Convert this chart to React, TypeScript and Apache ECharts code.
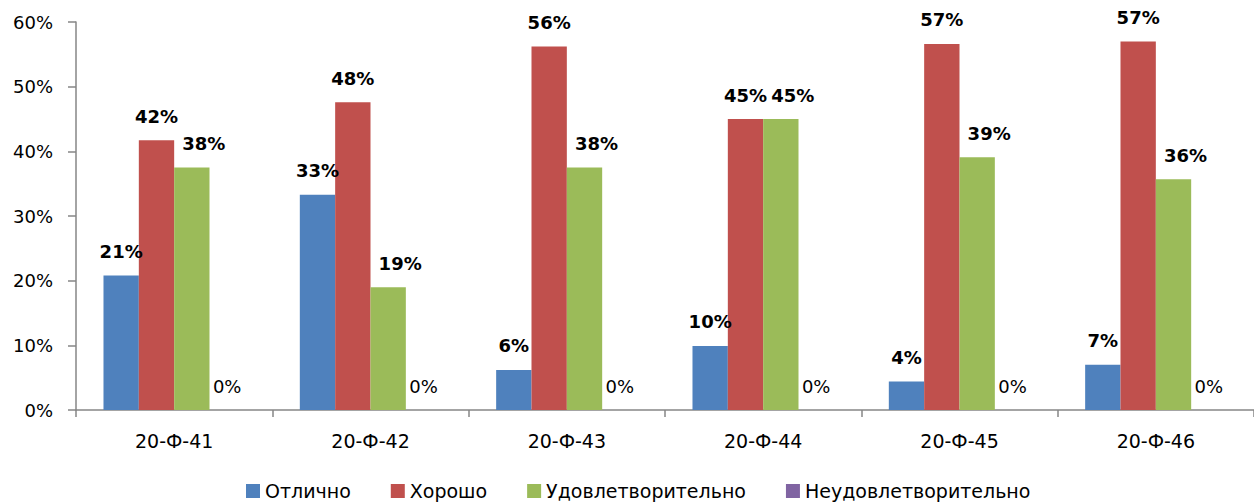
import React, { useEffect, useRef } from "react";
import * as echarts from "echarts";

const categories = ["20-Ф-41", "20-Ф-42", "20-Ф-43", "20-Ф-44", "20-Ф-45", "20-Ф-46"];
const seriesNames = ["Отлично", "Хорошо", "Удовлетворительно", "Неудовлетворительно"];
const excellent = [20.8, 33.3, 6.2, 9.9, 4.4, 7.0];
const good = [41.7, 47.6, 56.2, 45.0, 56.6, 57.0];
const satisfactory = [37.5, 19.0, 37.5, 45.0, 39.1, 35.7];
const unsatisfactory = [0, 0, 0, 0, 0, 0];
const colors = ["#4F81BD", "#C0504D", "#9BBB59", "#8064A2"];

const FONT = "DejaVu Sans";

export default function App() {
  const ref = useRef<HTMLDivElement>(null);
  useEffect(() => {
    if (!ref.current) return;
    const chart = echarts.init(ref.current, undefined, { renderer: "svg" });
    const allData = [excellent, good, satisfactory, unsatisfactory];
    const mkLabel = (offsetX: number) => ({
      show: true,
      position: "top",
      distance: 15,
      offset: [offsetX, 0],
      fontFamily: FONT,
      fontSize: 18,
      color: "#000",
      formatter: (p: any) => Math.round(p.value) + "%",
    });
    const series = allData.map((d, i) => ({
      name: seriesNames[i],
      type: "bar",
      barGap: "0%",
      barCategoryGap: "28%",
      itemStyle: { color: colors[i] },
      data: d.map((v) => ({
        value: v,
        label: { fontWeight: v === 0 ? "normal" : "bold" },
      })),
      label: mkLabel(i === 2 ? 12 : 0),
    }));
    chart.setOption({
      animation: false,
      textStyle: { fontFamily: FONT },
      grid: { left: 76, top: 22, width: 1190, height: 388 },
      legend: {
        data: seriesNames,
        top: 480,
        left: 246,
        padding: 0,
        icon: "rect",
        itemWidth: 14,
        itemHeight: 14,
        itemGap: 40,
        textStyle: { fontFamily: FONT, fontSize: 19, color: "#000", lineHeight: 22 },
      },
      xAxis: {
        type: "category",
        data: categories,
        axisLine: { lineStyle: { color: "#868686", width: 1.5 } },
        axisTick: { show: true, length: 7, lineStyle: { color: "#868686", width: 1.5 } },
        axisLabel: { fontFamily: FONT, fontSize: 19, color: "#000", margin: 21 },
      },
      yAxis: {
        type: "value",
        min: 0,
        max: 60,
        interval: 10,
        splitLine: { show: false },
        axisLine: { show: true, lineStyle: { color: "#868686", width: 1.5 } },
        axisTick: { show: true, length: 8, lineStyle: { color: "#868686", width: 1.5 } },
        axisLabel: { fontFamily: FONT, fontSize: 18, color: "#000", margin: 23, formatter: "{value}%" },
      },
      series,
    });
    return () => chart.dispose();
  }, []);
  return (
    <div
      ref={ref}
      style={{ position: "fixed", left: 0, top: 0, width: 1254, height: 504, background: "#fff" }}
    />
  );
}
